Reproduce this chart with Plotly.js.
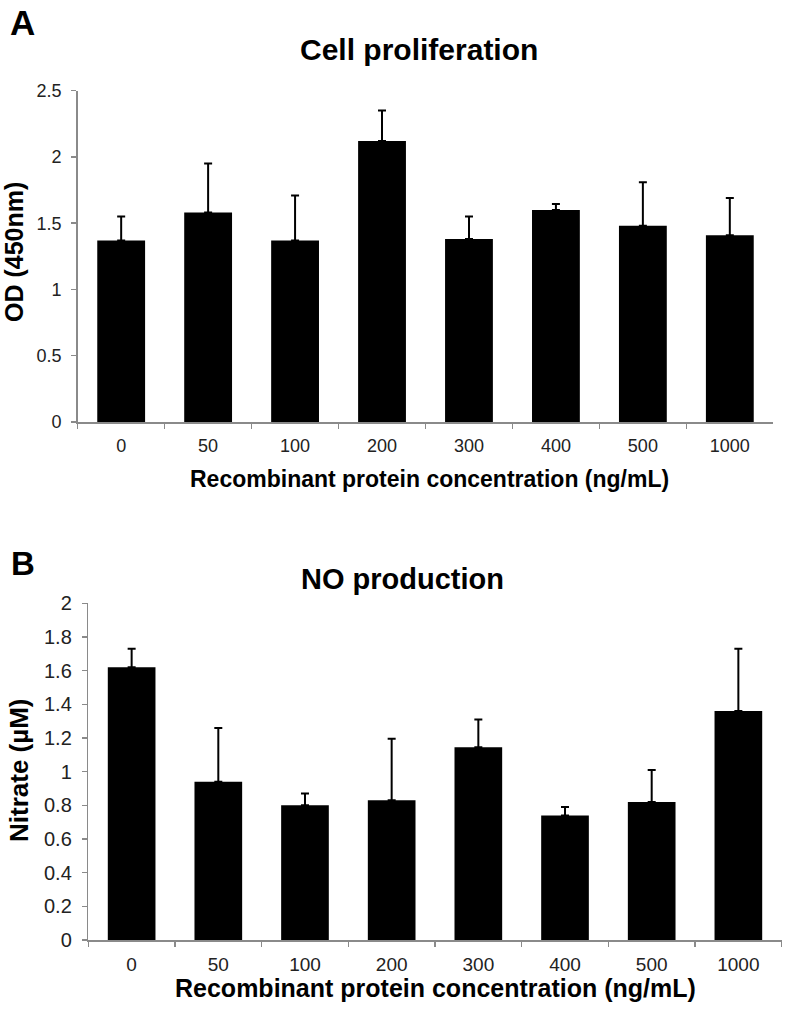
<!DOCTYPE html>
<html>
<head>
<meta charset="utf-8">
<script src="https://cdn.plot.ly/plotly-3.0.1.min.js"></script>
<style>html,body{margin:0;padding:0;background:#fff;}#chart{width:786px;height:1010px;}</style>
</head>
<body>
<div id="chart"></div>
<script>
const categories = ['0', '50', '100', '200', '300', '400', '500', '1000'];
const odMean = [1.37, 1.58, 1.37, 2.12, 1.38, 1.60, 1.48, 1.41];
const odErr = [0.18, 0.37, 0.34, 0.23, 0.17, 0.045, 0.33, 0.28];
const nitrateMean = [1.62, 0.94, 0.80, 0.83, 1.145, 0.74, 0.82, 1.36];
const nitrateErr = [0.11, 0.32, 0.07, 0.365, 0.165, 0.05, 0.19, 0.37];
const odTicks = [0, 0.5, 1, 1.5, 2, 2.5];
const odTickText = ['0', '0.5', '1', '1.5', '2', '2.5'];
const nitrateTicks = [0, 0.2, 0.4, 0.6, 0.8, 1, 1.2, 1.4, 1.6, 1.8, 2];
const nitrateTickText = ['0', '0.2', '0.4', '0.6', '0.8', '1', '1.2', '1.4', '1.6', '1.8', '2'];

const FONT = '"Liberation Sans", Arial, sans-serif';
const AXIS_GRAY = '#8a8a8a';
const zeros = categories.map(() => 0);

const traces = [
  {
    type: 'bar', x: categories, y: odMean, xaxis: 'x', yaxis: 'y',
    marker: {color: '#000000', line: {width: 0}},
    error_y: {type: 'data', symmetric: false, array: odErr, arrayminus: zeros,
              color: '#000000', thickness: 2, width: 4},
    hoverinfo: 'skip', showlegend: false
  },
  {
    type: 'bar', x: categories, y: nitrateMean, xaxis: 'x2', yaxis: 'y2',
    marker: {color: '#000000', line: {width: 0}},
    error_y: {type: 'data', symmetric: false, array: nitrateErr, arrayminus: zeros,
              color: '#000000', thickness: 2, width: 4},
    hoverinfo: 'skip', showlegend: false
  }
];

function xAxis(domain, anchor, size) {
  return {
    type: 'category', domain: domain, anchor: anchor, range: [-0.5, 7.5],
    showline: true, linecolor: AXIS_GRAY, linewidth: 1.5,
    ticks: 'outside', tickson: 'boundaries', ticklen: 5, tickwidth: 1.5, tickcolor: AXIS_GRAY,
    showgrid: false, zeroline: false, fixedrange: true,
    tickfont: {family: FONT, size: size, color: '#222'}, ticklabelstandoff: 7
  };
}
function yAxis(domain, anchor, range, vals, text, size) {
  return {
    domain: domain, anchor: anchor, range: range,
    tickvals: vals, ticktext: text,
    showline: true, linecolor: AXIS_GRAY, linewidth: 1.5,
    ticks: 'outside', ticklen: 5, tickwidth: 1.5, tickcolor: AXIS_GRAY,
    showgrid: false, zeroline: false, fixedrange: true,
    tickfont: {family: FONT, size: size, color: '#222'}, ticklabelstandoff: 6
  };
}

const W = 786, H = 1010;
const px = v => v / W;
const py = v => 1 - v / H;

function ann(text, x, y, size, angle, yanchor) {
  return {
    text: text, xref: 'paper', yref: 'paper', x: px(x), y: py(y),
    xanchor: 'center', yanchor: yanchor || 'middle', showarrow: false, textangle: angle || 0,
    font: {family: FONT, size: size, color: '#000'}
  };
}

const layout = {
  width: W, height: H,
  margin: {l: 0, r: 0, t: 0, b: 0},
  paper_bgcolor: '#ffffff', plot_bgcolor: '#ffffff',
  bargap: 0.45, showlegend: false,
  xaxis: xAxis([px(77.7), px(773.3)], 'y', 18),
  yaxis: yAxis([py(422), py(90.7)], 'x', [0, 2.5], odTicks, odTickText, 18),
  xaxis2: xAxis([px(88.3), px(781.7)], 'y2', 19),
  yaxis2: yAxis([py(940), py(603.3)], 'x2', [0, 2], nitrateTicks, nitrateTickText, 20),
  annotations: [
    ann('<b>A</b>', 22, 0.5, 35, 0, 'top'),
    ann('<b>Cell proliferation</b>', 419, 49, 30),
    ann('<b>OD (450nm)</b>', 14, 252, 25, -90),
    ann('<b>Recombinant protein concentration (ng/mL)</b>', 430, 479, 23),
    ann('<b>B</b>', 22.5, 563, 33),
    ann('<b>NO production</b>', 402.5, 579, 29),
    ann('<b>Nitrate (µM)</b>', 19, 770, 26, -90),
    ann('<b>Recombinant protein concentration (ng/mL)</b>', 435.5, 988, 25)
  ]
};

Plotly.newPlot('chart', traces, layout, {staticPlot: true, displayModeBar: false});
</script>
</body>
</html>
